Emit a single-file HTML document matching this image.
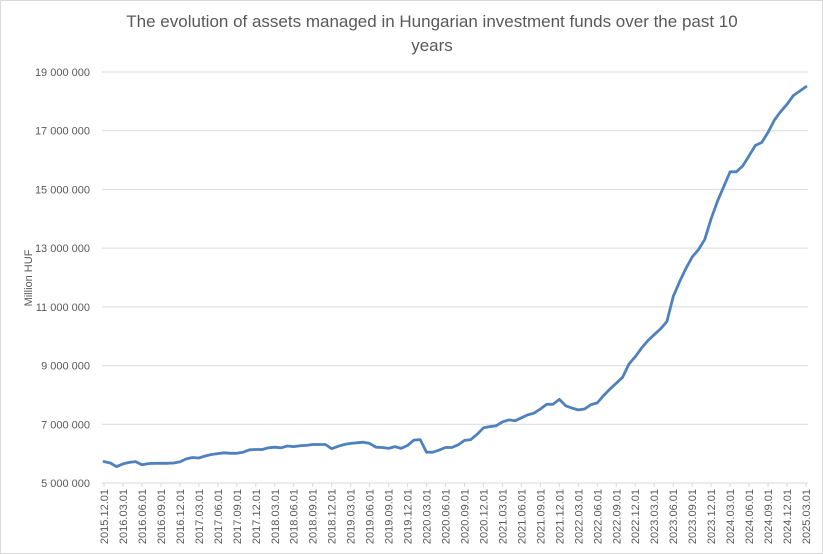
<!DOCTYPE html>
<html><head><meta charset="utf-8"><style>
html,body{margin:0;padding:0;background:#fff}
svg{display:block;font-family:"Liberation Sans",Calibri,sans-serif}
</style></head><body>
<svg width="823" height="554" viewBox="0 0 823 554" id="chart">
<rect x="0.5" y="0.5" width="822" height="553" fill="#fff" stroke="#d9d9d9"/>
<text x="432" y="27" text-anchor="middle" font-size="17" fill="#595959">The evolution of assets managed in Hungarian investment funds over the past 10</text>
<text x="432" y="51" text-anchor="middle" font-size="17" fill="#595959">years</text>
<text transform="translate(32,278) rotate(-90)" text-anchor="middle" font-size="11" fill="#595959">Million HUF</text>
<g id="grid"></g><g id="yt"></g><g id="xt"></g><g id="series"></g>
</svg>
<script>
const yTicks=[5000000,7000000,9000000,11000000,13000000,15000000,17000000,19000000];
const yTickLabels=["5 000 000","7 000 000","9 000 000","11 000 000","13 000 000","15 000 000","17 000 000","19 000 000"];
const startYear=2015, startMonth=12;
const values=[5.73,5.68,5.56,5.65,5.70,5.73,5.62,5.66,5.67,5.67,5.67,5.68,5.72,5.82,5.87,5.85,5.92,5.97,6.00,6.03,6.01,6.01,6.05,6.13,6.14,6.14,6.20,6.22,6.20,6.26,6.24,6.27,6.28,6.31,6.31,6.31,6.17,6.25,6.31,6.35,6.37,6.39,6.35,6.22,6.21,6.18,6.24,6.18,6.28,6.46,6.48,6.05,6.05,6.12,6.21,6.21,6.30,6.45,6.48,6.66,6.88,6.92,6.95,7.08,7.15,7.12,7.22,7.32,7.38,7.52,7.68,7.68,7.85,7.63,7.55,7.49,7.52,7.67,7.73,7.98,8.2,8.4,8.6,9.05,9.3,9.6,9.85,10.05,10.25,10.5,11.35,11.85,12.3,12.7,12.95,13.3,14.0,14.6,15.1,15.6,15.6,15.8,16.15,16.5,16.6,16.95,17.36,17.65,17.9,18.2,18.35,18.5];
const NS="http://www.w3.org/2000/svg";
const x0=104,x1=806,yTop=72,yBot=483,vMin=5,vMax=19;
const n=values.length;
function xs(i){return x0+(x1-x0)*i/(n-1);}
function ys(v){return yBot-(v-vMin)/(vMax-vMin)*(yBot-yTop);}
function mk(t,a){const e=document.createElementNS(NS,t);for(const k in a)e.setAttribute(k,a[k]);return e;}
const grid=document.getElementById('grid'),yt=document.getElementById('yt'),xt=document.getElementById('xt'),ser=document.getElementById('series');
yTicks.forEach((t,i)=>{const y=ys(t/1e6);
 if(i>0){const l=mk('line',{x1:x0-2,x2:x1+2,y1:y,y2:y,stroke:'#d9d9d9','stroke-width':1});
 
 grid.appendChild(l);}
 const tx=mk('text',{x:90,y:y+4,'text-anchor':'end','font-size':11,fill:'#595959'});tx.textContent=yTickLabels[i];
 
 yt.appendChild(tx);});
const ax=mk('line',{x1:x0-2,x2:x1+2,y1:yBot,y2:yBot,stroke:'#d9d9d9','stroke-width':1});

grid.appendChild(ax);
for(let i=0;i<n;i+=3){let m=startMonth-1+i;const yr=startYear+Math.floor(m/12);const mo=(m%12)+1;
 const lab=yr+'.'+String(mo).padStart(2,'0')+'.01';const x=xs(i);
 const tk=mk('line',{x1:x,x2:x,y1:yBot,y2:yBot+4,stroke:'#d9d9d9'});
 
 xt.appendChild(tk);
 const tx=mk('text',{transform:`translate(${x+4},${yBot+6}) rotate(-90)`,'text-anchor':'end','font-size':11,fill:'#595959'});tx.textContent=lab;
 
 xt.appendChild(tx);}
const pts=values.map((v,i)=>xs(i).toFixed(1)+','+ys(v).toFixed(1)).join(' ');
const pl=mk('polyline',{points:pts,fill:'none',stroke:'#4f81bd','stroke-width':2.8,'stroke-linejoin':'round','stroke-linecap':'round'});

ser.appendChild(pl);
</script>
</body></html>
